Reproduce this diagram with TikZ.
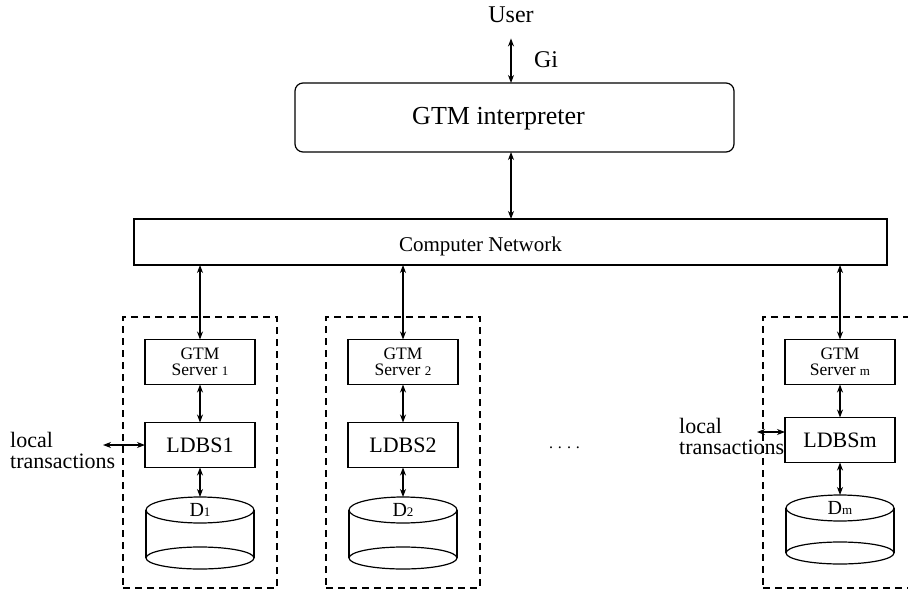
\documentclass[tikz,border=0pt]{standalone}
\usepackage{fontspec}
\setmainfont{Liberation Serif}
\usepackage{tikz}
\usetikzlibrary{arrows.meta,positioning,shapes.geometric}
\newcommand{\smallidx}[1]{{\fontsize{13}{13}\selectfont #1}}
\tikzset{
  box/.style={rectangle, draw, line width=1.2pt, align=center, inner sep=2pt, outer sep=0pt},
  srvbox/.style={box, minimum width=110pt, minimum height=45pt, font=\fontsize{17.5}{16}\selectfont},
  dbbox/.style={box, minimum width=110pt, minimum height=45pt, font=\fontsize{22}{22}\selectfont},
  disk/.style={ellipse, draw, line width=1.2pt, inner sep=0pt, outer sep=0pt, minimum width=108pt,
               font=\fontsize{20}{20}\selectfont},
  grp/.style={rectangle, draw, line width=1.2pt, dash pattern=on 7pt off 5pt,
              minimum width=154pt, minimum height=271pt},
  lbl/.style={font=\fontsize{22}{21}\selectfont, align=left, inner sep=0pt},
  flow/.style={{Stealth[length=8pt,width=6pt,inset=2.5pt]}-{Stealth[length=8pt,width=6pt,inset=2.5pt]},
               line width=1.1pt}
}
\begin{document}
\begin{tikzpicture}[x=1pt, y=-1pt]
  \useasboundingbox (0,0) rectangle (908,594);
  \node[lbl, font=\fontsize{24}{24}\selectfont, anchor=base] (user) at (511,23) {User};
  \node[lbl, font=\fontsize{24}{24}\selectfont, anchor=base] (gi) at (546,68) {Gi};
  \node[box, rounded corners=8pt, minimum width=439pt, minimum height=69pt,
        label={[lbl, font=\fontsize{26}{26}\selectfont, xshift=-16pt, yshift=-1pt]center:GTM interpreter}]
        (interp) at (514.5,117.5) {};
  \node[box, minimum width=753pt, minimum height=46pt,
        label={[lbl, font=\fontsize{21}{21}\selectfont, xshift=-30pt, yshift=-4pt]center:Computer Network}]
        (net) at (510.5,242) {};
  \draw[flow, shorten <=15pt] (user.south) -- (user.south |- interp.north);
  \draw[flow] (user.south |- interp.south) -- (user.south |- net.north);
  % one column per local database
  \foreach \n/\cx/\dy in {1/200/0, 2/403/0, m/840/-5} {
    \node[grp] (grp\n) at (\cx,452.5) {};
    \node[srvbox] (srv\n) at (\cx,362) {GTM\\Server \smallidx{\n}};
    \node[dbbox] (ldbs\n) at (\cx,445+\dy) {LDBS\n};
    \node[disk, minimum height=26pt, fill=white] (d\n) at (\cx,510+0.4*\dy) {D\smallidx{\n}};
    \node[disk, minimum height=22pt] (base\n) at (\cx,558+\dy) {};
    \draw[line width=1.2pt] (d\n.west) -- (base\n.west) (d\n.east) -- (base\n.east);
    \draw[flow] (net.south -| srv\n.north) -- (srv\n.north);
    \draw[flow] (srv\n.south) -- (ldbs\n.north);
    \draw[flow] (ldbs\n.south) -- (d\n.north);
  }
  \node[lbl, anchor=north west] (loc1) at (10,432) {local\\transactions};
  \coordinate (lt1) at (103,445);
  \draw[flow] (lt1) -- (lt1 -| ldbs1.west);
  \node[lbl, anchor=north west] (locm) at (679,418) {local\\transactions};
  \coordinate (ltm) at (757,432);
  \draw[flow] (ltm) -- (ltm -| ldbsm.west);
  \node[lbl, font=\fontsize{16}{16}\selectfont, anchor=base] (dots) at (564.5,448)
    {.\hspace{5pt}.\hspace{5pt}.\hspace{5pt}.};
\end{tikzpicture}
\end{document}
